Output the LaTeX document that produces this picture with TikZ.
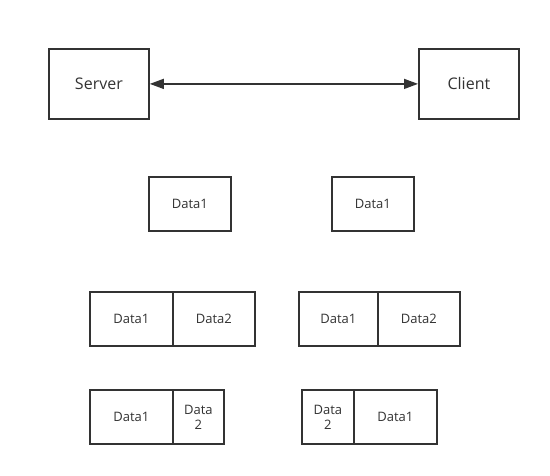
\documentclass[tikz,border=0pt]{standalone}
\usepackage{fontspec}
\setmainfont{Open Sans}
\usetikzlibrary{arrows.meta}
\definecolor{ink}{HTML}{333333}
\begin{document}
\begin{tikzpicture}[x=1pt,y=-1pt,
  box/.style={draw=ink,line width=1.8pt,text=ink,inner sep=0pt,anchor=north west},
  big/.style={box,font=\fontsize{16}{18}\selectfont},
  small/.style={box,font=\fontsize{13}{15}\selectfont,align=center},
  link/.style={draw=ink,line width=1.4pt,{Triangle[length=14pt,width=10pt]}-{Triangle[length=14pt,width=10pt]}}]
\useasboundingbox (0,0) rectangle (550,476);
\fill[white] (0,0) rectangle (550,476);
% top
\node[big,minimum width=100pt,minimum height=70pt] (server) at (48,48) {Server};
\node[big,minimum width=100pt,minimum height=70pt] (client) at (418,48) {Client};
\draw[link] (server.east) -- (client.west);
% row 2
\node[small,minimum width=82pt,minimum height=54pt] (s1) at (148,176) {Data1};
\node[small,minimum width=82pt,minimum height=54pt] (c1) at (331,176) {Data1};
% row 3
\node[small,minimum width=83pt,minimum height=54pt] (s2a) at (89,291) {Data1};
\node[small,minimum width=82pt,minimum height=54pt] (s2b) at (172,291) {Data2};
\node[small,minimum width=79pt,minimum height=54pt] (c2a) at (298,291) {Data1};
\node[small,minimum width=82pt,minimum height=54pt] (c2b) at (377,291) {Data2};
% row 4
\node[small,minimum width=83pt,minimum height=54pt] (s3a) at (89,389) {Data1};
\node[small,minimum width=51pt,minimum height=54pt] (s3b) at (172,389) {Data\\2};
\node[small,minimum width=52pt,minimum height=54pt] (c3a) at (301,389) {Data\\2};
\node[small,minimum width=83pt,minimum height=54pt] (c3b) at (353,389) {Data1};
\end{tikzpicture}
\end{document}
